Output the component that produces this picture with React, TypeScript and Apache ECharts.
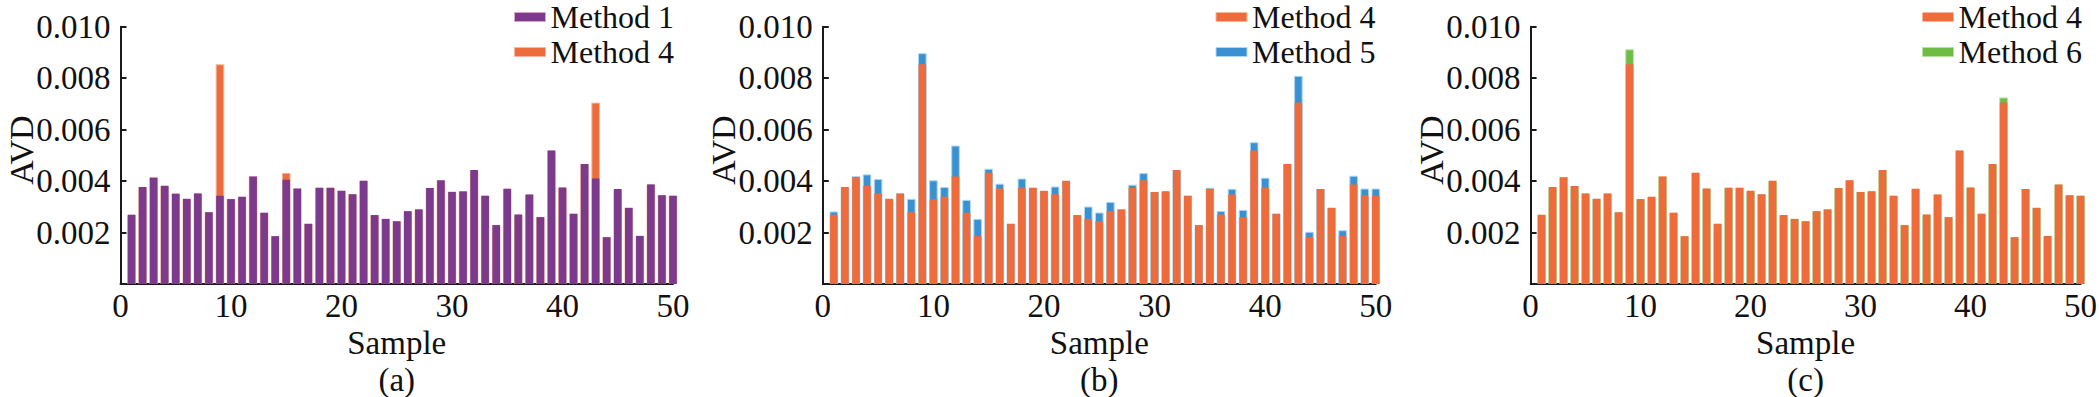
import React, { useEffect, useRef } from "react";
import * as echarts from "echarts";

// Values in units of 1e-3 (AVD)
const method1 = [2.69, 3.77, 4.13, 3.82, 3.51, 3.31, 3.52, 2.79, 3.43, 3.30, 3.39, 4.18, 2.77, 1.86, 4.05, 3.71, 2.34, 3.74, 3.74, 3.62, 3.49, 4.01, 2.68, 2.53, 2.44, 2.83, 2.90, 3.73, 4.03, 3.58, 3.60, 4.43, 3.43, 2.29, 3.70, 2.70, 3.48, 2.60, 5.19, 3.75, 2.73, 4.66, 4.10, 1.82, 3.69, 2.96, 1.87, 3.87, 3.45, 3.43];
const method4 = [2.69, 3.77, 4.15, 3.81, 3.52, 3.31, 3.52, 2.79, 8.54, 3.30, 3.39, 4.18, 2.77, 1.86, 4.32, 3.71, 2.34, 3.74, 3.74, 3.62, 3.49, 4.01, 2.68, 2.53, 2.44, 2.83, 2.90, 3.73, 4.03, 3.58, 3.60, 4.43, 3.43, 2.29, 3.70, 2.70, 3.48, 2.60, 5.19, 3.75, 2.73, 4.66, 7.05, 1.82, 3.69, 2.96, 1.87, 3.87, 3.45, 3.43];
const method5 = [2.82, 3.77, 4.19, 4.26, 4.08, 3.31, 3.52, 3.31, 8.97, 4.03, 3.77, 5.38, 3.27, 2.53, 4.48, 3.90, 2.34, 4.10, 3.74, 3.62, 3.79, 4.01, 2.68, 3.01, 2.78, 3.19, 2.90, 3.86, 4.31, 3.58, 3.60, 4.43, 3.43, 2.29, 3.74, 2.84, 3.70, 2.88, 5.51, 4.13, 2.73, 4.66, 8.09, 2.03, 3.69, 2.96, 2.09, 4.21, 3.71, 3.71];
const method6 = [2.69, 3.77, 4.15, 3.81, 3.52, 3.31, 3.52, 2.79, 9.12, 3.30, 3.39, 4.18, 2.77, 1.86, 4.32, 3.71, 2.34, 3.74, 3.74, 3.62, 3.49, 4.01, 2.68, 2.53, 2.44, 2.83, 2.90, 3.73, 4.03, 3.58, 3.60, 4.43, 3.43, 2.29, 3.70, 2.70, 3.48, 2.60, 5.19, 3.75, 2.73, 4.66, 7.25, 1.82, 3.69, 2.96, 1.87, 3.87, 3.45, 3.43];

const xTicks = [0, 10, 20, 30, 40, 50];
const yTicks = [0, 0.002, 0.004, 0.006, 0.008, 0.01];
const panelLabels = ["(a)", "(b)", "(c)"];
const xTitle = "Sample";
const yTitle = "AVD";

const COLORS: Record<string, string> = {
  "Method 1": "#7B3A8C",
  "Method 4": "#EE6B3B",
  "Method 5": "#3A91D2",
  "Method 6": "#6DBD45",
};
const EDGE: Record<string, string> = {
  "Method 1": "#D9A3C8",
  "Method 4": "#F8B79D",
  "Method 5": "#A9D6F3",
  "Method 6": "#B6E39C",
};

const FONT = "Liberation Serif";

const panels = [
  { front: "Method 1", frontData: method1, back: "Method 4", backData: method4, left: 120.5, width: 552.5, legendLeft: 514 },
  { front: "Method 4", frontData: method4, back: "Method 5", backData: method5, left: 822.8, width: 553, legendLeft: 1215.5 },
  { front: "Method 4", frontData: method4, back: "Method 6", backData: method6, left: 1530.6, width: 550, legendLeft: 1922 },
];

const TOP = 26.7;
const BOTTOM = 284;

export default function App() {
  const ref = useRef<HTMLDivElement>(null);
  useEffect(() => {
    if (!ref.current) return;
    const chart = echarts.init(ref.current, undefined, { renderer: "svg" });
    const grid: any[] = [];
    const xAxis: any[] = [];
    const yAxis: any[] = [];
    const series: any[] = [];
    const legend: any[] = [];
    const graphic: any[] = [];
    const xMin = xTicks[0];
    const xMax = xTicks[xTicks.length - 1];
    const yMin = yTicks[0];
    const yMax = yTicks[yTicks.length - 1];

    panels.forEach((p, g) => {
      grid.push({
        left: p.left,
        top: TOP,
        width: p.width,
        height: BOTTOM - TOP,
        containLabel: false,
        outerBoundsMode: "none",
      });
      xAxis.push({
        type: "value",
        gridIndex: g,
        min: xMin,
        max: xMax,
        interval: 10,
        name: xTitle,
        nameLocation: "middle",
        nameGap: 36,
        nameTextStyle: { fontFamily: FONT, fontSize: 33, color: "#111" },
        axisLine: { show: true, onZero: false, lineStyle: { color: "#1a1a1a", width: 2 } },
        axisTick: { show: true, inside: true, length: 6, lineStyle: { color: "#1a1a1a", width: 2 } },
        axisLabel: { fontFamily: FONT, fontSize: 33, color: "#111", margin: 5 },
        splitLine: { show: false },
      });
      xAxis.push({
        type: "value",
        gridIndex: g,
        min: xMin,
        max: xMax,
        show: false,
      });
      yAxis.push({
        type: "value",
        gridIndex: g,
        min: yMin,
        max: yMax,
        interval: 0.002,
        axisLine: { show: true, lineStyle: { color: "#1a1a1a", width: 2 } },
        axisTick: { show: true, inside: true, length: 6, lineStyle: { color: "#1a1a1a", width: 2 } },
        axisLabel: {
          fontFamily: FONT,
          fontSize: 33,
          color: "#111",
          margin: 10,
          formatter: (v: number) => (v === 0 ? "" : v.toFixed(3)),
        },
        splitLine: { show: false },
      });
      series.push({
        name: p.back,
        type: "bar",
        xAxisIndex: 2 * g + 1,
        yAxisIndex: g,
        barWidth: 8.6,
        itemStyle: { color: COLORS[p.back], borderColor: EDGE[p.back], borderWidth: 1 },
        data: p.backData.map((v, i) => [i + 1, v / 1000]),
        silent: true,
      });
      series.push({
        name: p.front,
        type: "bar",
        xAxisIndex: 2 * g,
        yAxisIndex: g,
        barWidth: 7.6,
        itemStyle: { color: COLORS[p.front] },
        data: p.frontData.map((v, i) => [i + 1, v / 1000]),
        silent: true,
      });
      legend.push({
        orient: "vertical",
        left: p.legendLeft,
        top: 1,
        padding: 0,
        itemWidth: 31,
        itemHeight: 9,
        itemGap: 3,
        selectedMode: false,
        icon: "rect",
        textStyle: { fontFamily: FONT, fontSize: 32, color: "#111", lineHeight: 32 },
        data: [
          { name: p.front, itemStyle: { color: COLORS[p.front], borderColor: EDGE[p.front], borderWidth: 1 } },
          { name: p.back, itemStyle: { color: COLORS[p.back], borderColor: EDGE[p.back], borderWidth: 1 } },
        ],
      });
      // y-axis title (rotated, reading bottom to top)
      graphic.push({
        type: "text",
        x: p.left - 99,
        y: 150,
        rotation: Math.PI / 2,
        style: {
          text: yTitle,
          fontFamily: FONT,
          fontSize: 34,
          fill: "#111",
          align: "center",
          verticalAlign: "middle",
          textAlign: "center",
          textVerticalAlign: "middle",
        },
      });
      // panel label
      graphic.push({
        type: "text",
        x: p.left + p.width / 2,
        y: 380,
        style: {
          text: panelLabels[g],
          fontFamily: FONT,
          fontSize: 33,
          fill: "#111",
          align: "center",
          verticalAlign: "middle",
          textAlign: "center",
          textVerticalAlign: "middle",
        },
      });
    });

    chart.setOption({
      animation: false,
      backgroundColor: "#ffffff",
      textStyle: { fontFamily: FONT },
      grid,
      xAxis,
      yAxis,
      series,
      legend,
      graphic,
    });
    return () => chart.dispose();
  }, []);
  return (
    <div
      ref={ref}
      style={{ position: "fixed", left: 0, top: 0, width: 2099, height: 397, background: "#fff" }}
    />
  );
}
